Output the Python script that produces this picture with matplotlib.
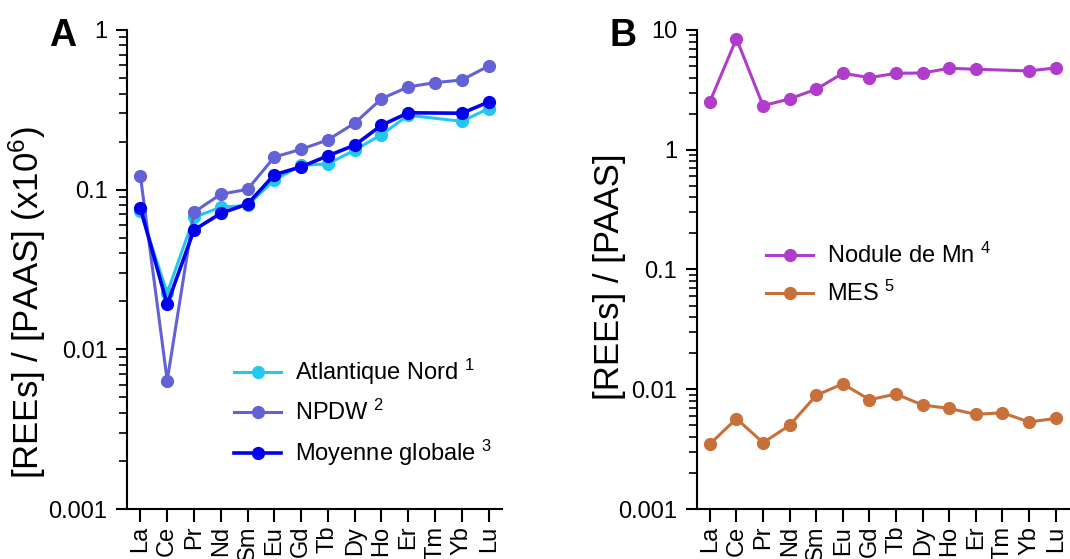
import matplotlib
matplotlib.use('Agg')
import matplotlib.pyplot as plt
import numpy as np
from matplotlib.ticker import LogLocator, FuncFormatter

plt.rcParams['font.family'] = ['Liberation Sans', 'DejaVu Sans']
plt.rcParams['mathtext.fontset'] = 'custom'
plt.rcParams['mathtext.rm'] = 'Liberation Sans'

# data
elements = ['La', 'Ce', 'Pr', 'Nd', 'Sm', 'Eu', 'Gd', 'Tb', 'Dy', 'Ho', 'Er', 'Tm', 'Yb', 'Lu']
nan = np.nan

# panel A (x10^6), Tm not measured for two series
atlantique_nord = [0.0732, 0.0225, 0.0671, 0.0776, 0.0798, 0.115, 0.142, 0.145, 0.177, 0.221, 0.292, nan, 0.268, 0.322]
npdw = [0.122, 0.00637, 0.0722, 0.0936, 0.1005, 0.160, 0.179, 0.205, 0.261, 0.371, 0.440, 0.468, 0.486, 0.595]
moyenne_globale = [0.0768, 0.0191, 0.0559, 0.0711, 0.0813, 0.124, 0.139, 0.163, 0.190, 0.253, 0.303, nan, 0.301, 0.354]

# panel B
nodule_mn = [2.52, 8.46, 2.33, 2.66, 3.20, 4.35, 4.00, 4.35, 4.37, 4.79, 4.70, nan, 4.55, 4.82]
mes = [0.00349, 0.00568, 0.00358, 0.00500, 0.00890, 0.0111, 0.00818, 0.00912, 0.00738, 0.00692, 0.00617, 0.00637, 0.00533, 0.00571]

FS = 17


def draw(ax, series):
    x = np.arange(len(elements))
    for vals, color, label, lw in series:
        y = np.array(vals, dtype=float)
        ok = ~np.isnan(y)
        ax.plot(x[ok], y[ok], color=color, lw=lw, marker='o', ms=8.5, label=label)


def style(ax, ylim):
    ax.set_yscale('log')
    ax.set_ylim(*ylim)
    ax.set_xlim(-0.5, 13.5)
    ax.set_xticks(np.arange(len(elements)))
    ax.set_xticklabels(elements, rotation=90, fontsize=FS)
    ax.yaxis.set_major_locator(LogLocator(base=10))
    ax.yaxis.set_minor_locator(LogLocator(base=10, subs=np.arange(2, 10)))
    ax.yaxis.set_minor_formatter(FuncFormatter(lambda v, p: ''))
    ax.yaxis.set_major_formatter(FuncFormatter(lambda v, p: '{:g}'.format(v)))
    ax.tick_params(axis='y', which='major', length=8, width=1.5, labelsize=FS, pad=6)
    ax.tick_params(axis='y', which='minor', length=6, width=1.2)
    ax.tick_params(axis='x', length=9, width=1.5, pad=3)
    for s in ['top', 'right']:
        ax.spines[s].set_visible(False)
    for s in ['left', 'bottom']:
        ax.spines[s].set_linewidth(1.5)


fig = plt.figure(figsize=(10.70, 5.59), dpi=100)

# panel A
axA = fig.add_axes([0.1187, 0.0894, 0.3505, 0.857])
draw(axA, [
    (atlantique_nord, '#22c8f0', r'Atlantique Nord $\mathregular{^{1}}$', 2.2),
    (npdw, '#6262d6', r'NPDW $\mathregular{^{2}}$', 2.2),
    (moyenne_globale, '#0000ee', r'Moyenne globale $\mathregular{^{3}}$', 2.6),
])
style(axA, (0.001, 1))
axA.set_ylabel(r'[REEs] / [PAAS] (x10$\mathregular{^{6}}$)', fontsize=25)
axA.yaxis.set_label_coords(-0.21, 0.43)
axA.legend(loc='lower left', bbox_to_anchor=(0.26, 0.065), frameon=False, fontsize=FS,
           handlelength=2.0, handletextpad=0.6, labelspacing=0.55, borderaxespad=0)
fig.text(0.046, 0.935, 'A', fontsize=27, fontweight='bold', ha='left', va='center')

# panel B
axB = fig.add_axes([0.651, 0.0894, 0.348, 0.857])
draw(axB, [
    (nodule_mn, '#b03ccc', r'Nodule de Mn $\mathregular{^{4}}$', 2.2),
    (mes, '#c8703a', r'MES $\mathregular{^{5}}$', 2.2),
])
style(axB, (0.001, 10))
axB.set_ylabel('[REEs] / [PAAS]', fontsize=25)
axB.yaxis.set_label_coords(-0.19, 0.485)
axB.legend(loc='lower left', bbox_to_anchor=(0.161, 0.404), frameon=False, fontsize=FS,
           handlelength=2.0, handletextpad=0.6, labelspacing=0.55, borderaxespad=0)
fig.text(0.570, 0.935, 'B', fontsize=27, fontweight='bold', ha='left', va='center')

fig.savefig('out.png', dpi=100)
